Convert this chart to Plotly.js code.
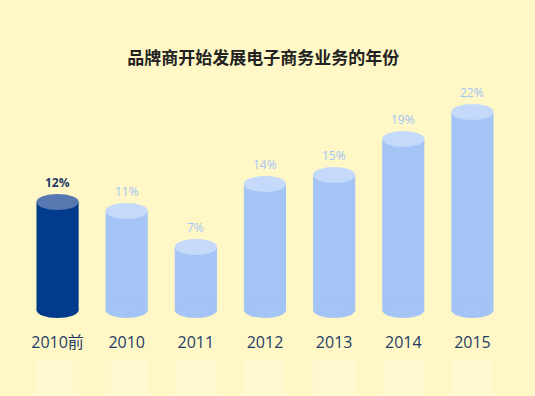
<!DOCTYPE html>
<html>
<head>
<meta charset="utf-8">
<script src="https://cdn.plot.ly/plotly-3.0.1.min.js"></script>
<style>html,body{margin:0;padding:0;background:#FFF8C6;}</style>
</head>
<body>
<div id="chart" style="width:535px;height:396px;"></div>
<script>
const categories = ["2010前", "2010", "2011", "2012", "2013", "2014", "2015"];
const values = [12, 11, 7, 14, 15, 19, 22];
const valueLabels = ["12%", "11%", "7%", "14%", "15%", "19%", "22%"];
const highlightIndex = 0;

const bodyColor = (i) => i === highlightIndex ? "#023A8C" : "#A3C4F5";
const capColor = (i) => i === highlightIndex ? "#5677B0" : "#C5D9FA";
const labelColor = (i) => i === highlightIndex ? "#1F3A6A" : "#A3C4F5";

const halfW = 0.305;
const shapes = [];
const annotations = [];
categories.forEach((c, i) => {
  // bottom ellipse
  shapes.push({type: "circle", xref: "x", yref: "y", ysizemode: "pixel", yanchor: 0,
    x0: i - halfW, x1: i + halfW, y0: -8, y1: 8,
    fillcolor: bodyColor(i), line: {width: 0}, layer: "above"});
  // top ellipse
  shapes.push({type: "circle", xref: "x", yref: "y", ysizemode: "pixel", yanchor: values[i],
    x0: i - halfW, x1: i + halfW, y0: -8, y1: 8,
    fillcolor: capColor(i), line: {width: 0}, layer: "above"});
  // faint reflection
  shapes.push({type: "rect", xref: "x", yref: "paper",
    x0: i - halfW, x1: i + halfW, y0: -0.17, y1: -0.33,
    fillcolor: "rgba(255,255,255,0.18)", line: {width: 0}, layer: "below"});
  annotations.push({x: i, y: values[i], xref: "x", yref: "y", text: valueLabels[i],
    showarrow: false, yanchor: "bottom", yshift: 9,
    font: {family: "Open Sans, Noto Sans, sans-serif", size: 12, color: labelColor(i),
           weight: i === highlightIndex ? "bold" : "normal"}});
});

const trace = {
  type: "bar",
  x: categories.map((c, i) => i),
  y: values,
  width: halfW * 2,
  marker: {color: categories.map((c, i) => bodyColor(i)), line: {width: 0}},
  hoverinfo: "skip"
};

const layout = {
  width: 535, height: 396,
  paper_bgcolor: "#FFF8C6", plot_bgcolor: "rgba(0,0,0,0)",
  margin: {l: 23, r: 28, t: 85, b: 77},
  showlegend: false,
  title: {text: "品牌商开始发展电子商务业务的年份", x: 0.492, xanchor: "center", y: 0.853, yanchor: "middle",
    font: {family: "Noto Sans CJK SC, sans-serif", size: 17, color: "#222222", weight: "bold"}},
  xaxis: {range: [-0.5, 6.5], tickmode: "array", tickvals: categories.map((c, i) => i), ticktext: categories,
    showgrid: false, zeroline: false, showline: false, ticks: "", ticklabelstandoff: 12,
    tickfont: {family: "Open Sans, Noto Sans CJK SC, sans-serif", size: 16, color: "#1F3D66"}, fixedrange: true},
  yaxis: {range: [-1, 25], visible: false, showgrid: false, zeroline: false, fixedrange: true},
  shapes: shapes,
  annotations: annotations
};

Plotly.newPlot("chart", [trace], layout, {displayModeBar: false, staticPlot: true});
</script>
</body>
</html>
